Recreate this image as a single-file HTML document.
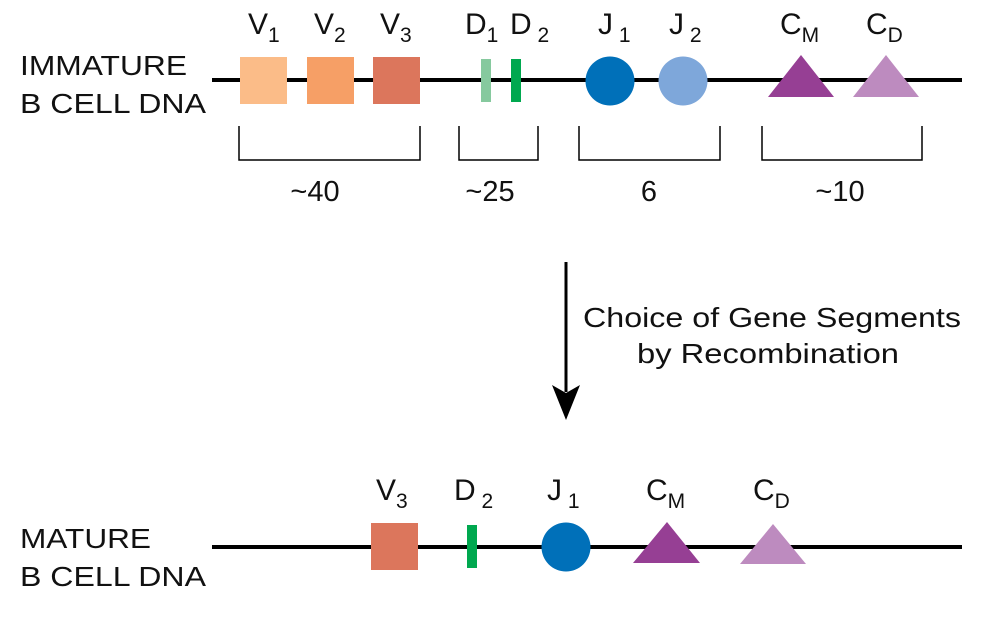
<!DOCTYPE html>
<html><head><meta charset="utf-8"><style>
html,body{margin:0;padding:0;background:#fff;}
svg{display:block;}
text{font-family:"Liberation Sans",Arial,sans-serif;fill:#111;}
</style></head><body>
<svg width="1004" height="625" viewBox="0 0 1004 625" xmlns="http://www.w3.org/2000/svg">
<g font-size="28">
<text x="20" y="75" textLength="167" lengthAdjust="spacingAndGlyphs">IMMATURE</text>
<text x="20" y="113" textLength="186" lengthAdjust="spacingAndGlyphs">B CELL DNA</text>
<text x="20" y="548" textLength="131" lengthAdjust="spacingAndGlyphs">MATURE</text>
<text x="20" y="586" textLength="186" lengthAdjust="spacingAndGlyphs">B CELL DNA</text>
</g>
<line x1="212" y1="80" x2="962" y2="80" stroke="#000" stroke-width="4"/>
<rect x="240" y="57" width="47" height="47" fill="#fbbc88"/>
<rect x="307" y="57" width="47" height="47" fill="#f69f66"/>
<rect x="373" y="57" width="47" height="47" fill="#dc765c"/>
<rect x="481" y="59" width="10" height="43" fill="#86c99e"/>
<rect x="511" y="59" width="10" height="43" fill="#00a84f"/>
<circle cx="610" cy="81" r="24.5" fill="#0070b9"/>
<circle cx="683" cy="81" r="24.5" fill="#7ea7da"/>
<polygon points="801,55 768,97 834,97" fill="#963f94"/>
<polygon points="886,55 853,97 919,97" fill="#bd8bbf"/>
<g font-size="30">
<text x="248" y="34">V<tspan font-size="21" dy="8">1</tspan></text>
<text x="314" y="34">V<tspan font-size="21" dy="8">2</tspan></text>
<text x="380" y="34">V<tspan font-size="21" dy="8">3</tspan></text>
<text x="465" y="34">D<tspan font-size="21" dy="8">1</tspan></text>
<text x="510" y="34">D<tspan font-size="21" dy="8"> 2</tspan></text>
<text x="598" y="34">J<tspan font-size="21" dy="8"> 1</tspan></text>
<text x="669" y="34">J<tspan font-size="21" dy="8"> 2</tspan></text>
<text x="780" y="34">C<tspan font-size="21" dy="8">M</tspan></text>
<text x="866" y="34">C<tspan font-size="21" dy="8">D</tspan></text>
</g>
<g fill="none" stroke="#000" stroke-width="1.5">
<polyline points="239,126 239,160 420,160 420,126"/>
<polyline points="459,126 459,160 538,160 538,126"/>
<polyline points="579,126 579,160 720,160 720,126"/>
<polyline points="762,126 762,160 922,160 922,126"/>
</g>
<g font-size="29" text-anchor="middle">
<text x="315" y="201">~40</text>
<text x="490" y="201">~25</text>
<text x="649" y="201">6</text>
<text x="840" y="201">~10</text>
</g>
<line x1="566" y1="262" x2="566" y2="392" stroke="#000" stroke-width="3"/>
<polygon points="552,385 566,420 580,385 566,393" fill="#000"/>
<g font-size="28" text-anchor="middle">
<text x="772" y="327" textLength="378" lengthAdjust="spacingAndGlyphs">Choice of Gene Segments</text>
<text x="768" y="363" textLength="262" lengthAdjust="spacingAndGlyphs">by Recombination</text>
</g>
<line x1="212" y1="547" x2="962" y2="547" stroke="#000" stroke-width="4"/>
<rect x="371" y="523" width="47" height="47" fill="#dc765c"/>
<rect x="467" y="525" width="10" height="43" fill="#00a84f"/>
<circle cx="566" cy="547" r="24.5" fill="#0070b9"/>
<polygon points="667,522 633,563 700,563" fill="#963f94"/>
<polygon points="773,524 740,564 806,564" fill="#bd8bbf"/>
<g font-size="30">
<text x="376" y="500">V<tspan font-size="21" dy="8">3</tspan></text>
<text x="454" y="500">D<tspan font-size="21" dy="8"> 2</tspan></text>
<text x="547" y="500">J<tspan font-size="21" dy="8"> 1</tspan></text>
<text x="646" y="500">C<tspan font-size="21" dy="8">M</tspan></text>
<text x="753" y="500">C<tspan font-size="21" dy="8">D</tspan></text>
</g>
</svg>
</body></html>
